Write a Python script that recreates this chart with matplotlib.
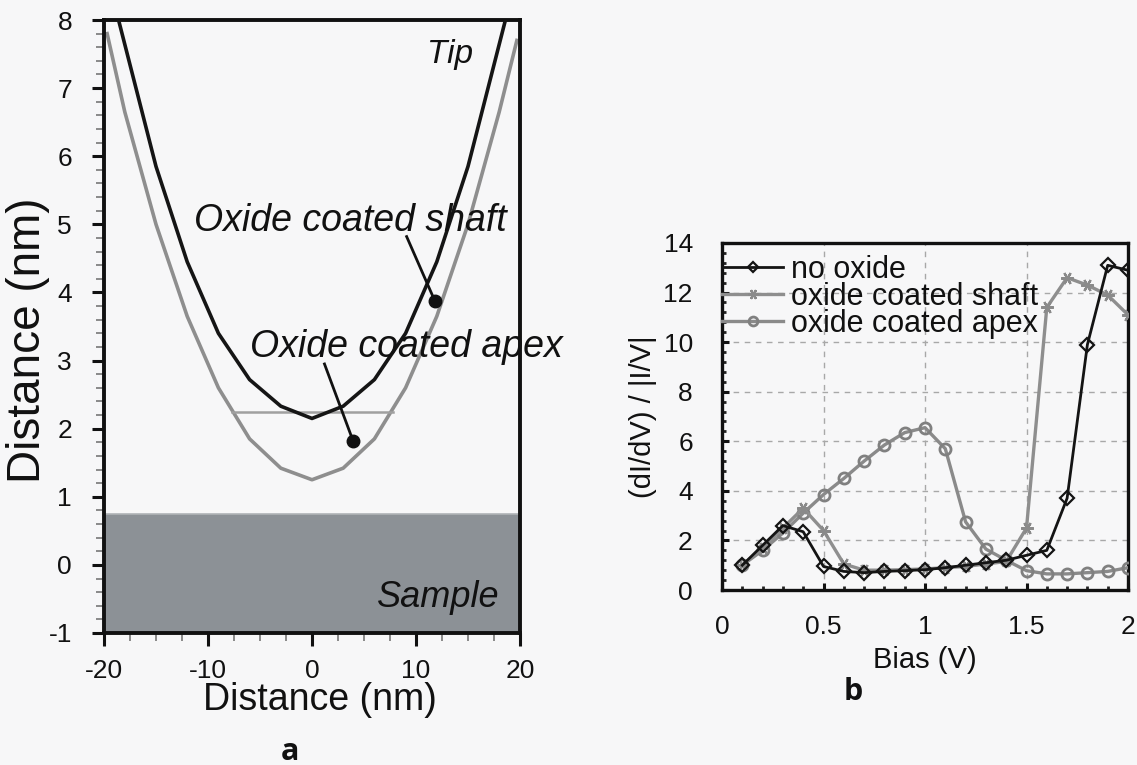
import matplotlib
matplotlib.use("Agg")
import matplotlib.pyplot as plt
from matplotlib.ticker import MultipleLocator
from matplotlib.patches import Rectangle

plt.rcParams['font.family'] = ['Liberation Sans', 'DejaVu Sans']
plt.rcParams['axes.unicode_minus'] = False

# ---------------- Panel a data ----------------
tip_x = [-18.6, -15, -12, -9, -6, -3, 0, 3, 6, 9, 12, 15, 18.6]
tip_y = [8.0, 5.85, 4.45, 3.4, 2.72, 2.33, 2.15, 2.33, 2.72, 3.4, 4.45, 5.85, 8.0]

apex_x = [-19.7, -18, -15, -12, -9, -6, -3, 0, 3, 6, 9, 12, 15, 18, 19.7]
apex_y = [7.8, 6.65, 5.0, 3.65, 2.6, 1.85, 1.42, 1.25, 1.42, 1.85, 2.6, 3.65, 5.0, 6.65, 7.7]

oxide_line_x = [-7.7, 7.8]
oxide_line_y = [2.24, 2.24]

sample_bottom, sample_top = -1.0, 0.75

a_xticks = [-20, -10, 0, 10, 20]
a_xticklabels = ['-20', '-10', '0', '10', '20']
a_yticks = [-1, 0, 1, 2, 3, 4, 5, 6, 7, 8]

# ---------------- Panel b data ----------------
bias = [0.1, 0.2, 0.3, 0.4, 0.5, 0.6, 0.7, 0.8, 0.9, 1.0,
        1.1, 1.2, 1.3, 1.4, 1.5, 1.6, 1.7, 1.8, 1.9, 2.0]
no_oxide = [1.0, 1.8, 2.6, 2.35, 0.95, 0.75, 0.7, 0.75, 0.78, 0.82,
            0.9, 1.0, 1.1, 1.2, 1.4, 1.6, 3.7, 9.9, 13.1, 12.9]
shaft = [1.0, 1.7, 2.5, 3.3, 2.4, 1.05, 0.8, 0.8, 0.82, 0.85,
         0.9, 0.95, 1.05, 1.15, 2.5, 11.4, 12.6, 12.3, 11.9, 11.1]
apex = [1.0, 1.6, 2.3, 3.1, 3.85, 4.5, 5.2, 5.85, 6.35, 6.55,
        5.7, 2.75, 1.65, 1.2, 0.78, 0.65, 0.65, 0.7, 0.75, 0.9]
b_labels = ['no oxide', 'oxide coated shaft', 'oxide coated apex']
b_xticks = [0, 0.5, 1, 1.5, 2]
b_xticklabels = ['0', '0.5', '1', '1.5', '2']
b_yticks = [0, 2, 4, 6, 8, 10, 12, 14]

W, H = 1137, 765
bg = '#f7f7f8'
fig = plt.figure(figsize=(W / 100, H / 100), dpi=100, facecolor=bg)

def frac(x0, y0, x1, y1):
    return [x0 / W, 1 - y1 / H, (x1 - x0) / W, (y1 - y0) / H]

# ---------------- Panel a ----------------
ax = fig.add_axes(frac(104, 20, 520, 633))
ax.set_facecolor(bg)
ax.set_xlim(-20, 20)
ax.set_ylim(-1, 8)
ax.add_patch(Rectangle((-20, sample_bottom), 40, sample_top - sample_bottom,
                       facecolor='#8c9196', edgecolor='none', zorder=1))
ax.plot([-20, 20], [sample_top, sample_top], color='#b0b3b6', lw=1.2, zorder=1.5)
ax.plot(apex_x, apex_y, color='#8e8e8e', lw=2.6, zorder=2)
ax.plot(oxide_line_x, oxide_line_y, color='#a0a0a0', lw=1.8, zorder=2)
ax.plot(tip_x, tip_y, color='#151515', lw=2.6, zorder=3)

# annotations
ax.text(13.3, 7.5, 'Tip', fontsize=24, style='italic', ha='center', va='center', color='#111')
ax.text(-11.3, 5.05, 'Oxide coated shaft', fontsize=27, style='italic',
        ha='left', va='center', color='#111', zorder=5)
ax.text(-6.0, 3.2, 'Oxide coated apex', fontsize=27, style='italic',
        ha='left', va='center', color='#111', clip_on=False, zorder=5)
ax.text(12.1, -0.48, 'Sample', fontsize=26, style='italic', ha='center', va='center', color='#111')
ax.plot([9.1, 11.8], [4.82, 3.88], color='#111', lw=2.0, zorder=4)
ax.plot([11.8], [3.88], 'o', color='#111', ms=9, zorder=4)
ax.plot([1.2, 3.95], [2.95, 1.82], color='#111', lw=2.0, zorder=4)
ax.plot([3.95], [1.82], 'o', color='#111', ms=9, zorder=4)

ax.set_xticks(a_xticks)
ax.set_xticklabels(a_xticklabels)
ax.set_yticks(a_yticks)
ax.xaxis.set_minor_locator(MultipleLocator(2.5))
ax.yaxis.set_minor_locator(MultipleLocator(0.2))
ax.tick_params(axis='both', which='major', direction='out', length=9, width=2.2,
               labelsize=19, colors='#111')
ax.tick_params(axis='both', which='minor', direction='out', length=6, width=1.2, color='#777')
ax.tick_params(axis='x', which='both', pad=10)
ax.tick_params(axis='y', which='major', pad=14)
for s in ax.spines.values():
    s.set_linewidth(2.8)
    s.set_color('#111')
ax.set_xlabel('Distance (nm)', fontsize=27, color='#111', va='center')
ax.xaxis.set_label_coords((320 - 104) / 416, (633 - 700) / 613)
ax.set_ylabel('Distance (nm)', fontsize=33, color='#111', va='center')
ax.yaxis.set_label_coords((28 - 104) / 416, (633 - 340) / 613)

fig.text(290 / W, 1 - 752 / H, 'a', fontsize=22, fontweight='bold', family='Open Sans',
         ha='center', va='center', color='#111')

# ---------------- Panel b ----------------
bx = fig.add_axes(frac(722, 243, 1128, 590))
bx.set_facecolor(bg)
bx.set_xlim(0, 2)
bx.set_ylim(0, 14)
bx.grid(True, which='major', color='#a8a8a8', linestyle=(0, (4, 4)), lw=1.0)
bx.set_axisbelow(True)
bx.plot(bias, apex, color='#8a8a8a', lw=2.4, marker='o', ms=8, mfc='none',
        mec='#808080', mew=2.0, label=b_labels[2], zorder=3)
bx.plot(bias, shaft, color='#8e8e8e', lw=2.4, marker=(6, 2, 90), ms=9,
        mec='#8a8a8a', mew=1.6, label=b_labels[1], zorder=3)
bx.plot(bias, no_oxide, color='#141414', lw=2.0, marker='D', ms=7, mfc='none',
        mec='#141414', mew=1.6, label=b_labels[0], zorder=4)
handles, labels = bx.get_legend_handles_labels()
order = [2, 1, 0]
leg = bx.legend([handles[i] for i in order], [labels[i] for i in order],
                loc='upper left', bbox_to_anchor=(0.0, 0.965), frameon=False,
                fontsize=22, handlelength=2.0, handletextpad=0.25,
                labelspacing=-0.1, borderaxespad=0.0, borderpad=0.0,
                markerscale=0.8)
for t in leg.get_texts():
    t.set_color('#111')

bx.set_xticks(b_xticks)
bx.set_xticklabels(b_xticklabels)
bx.set_yticks(b_yticks)
bx.xaxis.set_minor_locator(MultipleLocator(0.1))
bx.yaxis.set_minor_locator(MultipleLocator(0.4))
bx.tick_params(axis='both', which='major', direction='in', length=5, width=2.2,
               labelsize=19, colors='#111', top=False, right=False)
bx.tick_params(axis='both', which='minor', direction='in', length=3, width=2.0,
               color='#222', top=False, right=False)
bx.tick_params(axis='x', which='major', pad=18)
bx.tick_params(axis='y', which='major', pad=21)
for s in bx.spines.values():
    s.set_linewidth(2.4)
    s.set_color('#111')
bx.set_xlabel('Bias (V)', fontsize=21, color='#111', va='center')
bx.xaxis.set_label_coords((925 - 722) / 406, (590 - 660) / 347)
bx.set_ylabel('(dI/dV) / |I/V|', fontsize=21, color='#111', va='center')
bx.yaxis.set_label_coords((643 - 722) / 406, 0.5)

fig.text(853 / W, 1 - 692 / H, 'b', fontsize=22, fontweight='bold', family='Open Sans',
         ha='center', va='center', color='#111')

fig.savefig('out.png', dpi=100, facecolor=bg)
